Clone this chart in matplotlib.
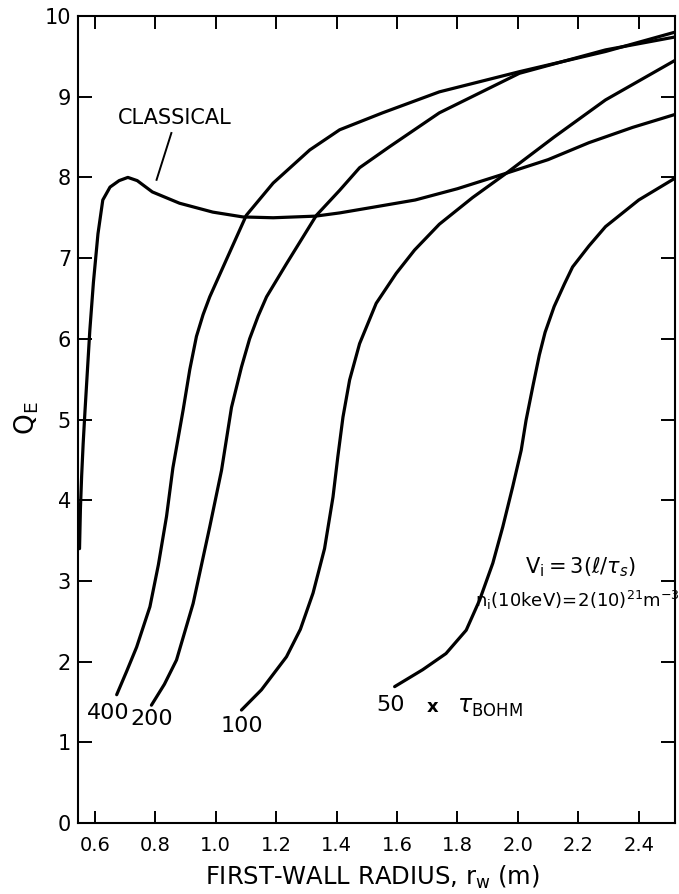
import matplotlib
matplotlib.use("Agg")
import matplotlib.pyplot as plt

plt.rcParams['font.family'] = ['DejaVu Sans']
plt.rcParams['mathtext.fontset'] = 'dejavusans'

# ---- data ----
classical_x = [0.549, 0.552, 0.556, 0.561, 0.567, 0.575, 0.583, 0.595, 0.610, 0.626,
               0.650, 0.680, 0.709, 0.740, 0.790, 0.880, 0.990, 1.090, 1.190, 1.330,
               1.410, 1.520, 1.660, 1.800, 1.960, 2.100, 2.235, 2.380, 2.520]
classical_y = [3.4, 3.9, 4.3, 4.7, 5.1, 5.6, 6.1, 6.7, 7.3, 7.72,
               7.88, 7.96, 8.00, 7.96, 7.82, 7.68, 7.57, 7.51, 7.50, 7.52,
               7.56, 7.63, 7.72, 7.86, 8.05, 8.22, 8.43, 8.62, 8.78]

b400_x = [0.672, 0.705, 0.738, 0.782, 0.810, 0.837, 0.858, 0.892, 0.914, 0.936,
          0.958, 0.980, 1.035, 1.101, 1.190, 1.311, 1.410, 1.552, 1.740, 2.005,
          2.290, 2.520]
b400_y = [1.59, 1.88, 2.18, 2.68, 3.20, 3.80, 4.40, 5.12, 5.62, 6.03,
          6.30, 6.52, 6.98, 7.53, 7.93, 8.34, 8.59, 8.80, 9.06, 9.31,
          9.56, 9.80]

b200_x = [0.787, 0.830, 0.870, 0.925, 0.980, 1.019, 1.052, 1.085, 1.112, 1.140,
          1.168, 1.234, 1.333, 1.410, 1.476, 1.575, 1.740, 2.005, 2.290, 2.520]
b200_y = [1.46, 1.72, 2.02, 2.72, 3.67, 4.37, 5.15, 5.65, 6.00, 6.28,
          6.52, 6.93, 7.53, 7.84, 8.12, 8.38, 8.80, 9.29, 9.58, 9.74]

b100_x = [1.085, 1.151, 1.234, 1.280, 1.322, 1.360, 1.388, 1.404, 1.421, 1.443,
          1.476, 1.531, 1.597, 1.658, 1.740, 1.850, 1.961, 2.120, 2.290, 2.520]
b100_y = [1.40, 1.65, 2.06, 2.40, 2.85, 3.40, 4.04, 4.54, 5.03, 5.49,
          5.94, 6.44, 6.81, 7.10, 7.42, 7.75, 8.05, 8.50, 8.96, 9.45]

b50_x = [1.592, 1.685, 1.762, 1.829, 1.873, 1.917, 1.950, 1.983, 2.011, 2.027,
         2.050, 2.071, 2.090, 2.120, 2.154, 2.181, 2.235, 2.290, 2.400, 2.520]
b50_y = [1.69, 1.90, 2.10, 2.39, 2.76, 3.22, 3.67, 4.17, 4.62, 4.99,
         5.42, 5.80, 6.08, 6.40, 6.68, 6.89, 7.15, 7.39, 7.72, 7.99]

x_ticks = [0.6, 0.8, 1.0, 1.2, 1.4, 1.6, 1.8, 2.0, 2.2, 2.4]
x_tick_labels = ["0.6", "0.8", "1.0", "1.2", "1.4", "1.6", "1.8", "2.0", "2.2", "2.4"]
y_ticks = [0, 1, 2, 3, 4, 5, 6, 7, 8, 9, 10]
y_tick_labels = ["0", "1", "2", "3", "4", "5", "6", "7", "8", "9", "10"]

# ---- figure ----
fig = plt.figure(figsize=(6.79, 8.94), dpi=100)
ax = fig.add_axes([0.1149, 0.0794, 0.8792, 0.9027])

lw = 2.3
for xs, ys in [(classical_x, classical_y), (b400_x, b400_y), (b200_x, b200_y),
               (b100_x, b100_y), (b50_x, b50_y)]:
    ax.plot(xs, ys, color='black', lw=lw, solid_capstyle='round', solid_joinstyle='round')

ax.set_xlim(0.544, 2.52)
ax.set_ylim(0, 10)

ax.set_xticks(x_ticks)
ax.set_xticklabels(x_tick_labels, fontsize=14)
ax.set_yticks(y_ticks)
ax.set_yticklabels(y_tick_labels, fontsize=15)
ax.tick_params(axis='x', direction='in', length=9, width=1.4, top=True, bottom=True, pad=9)
ax.tick_params(axis='y', direction='in', length=10, width=1.4, left=True, right=True, pad=5)
for s in ax.spines.values():
    s.set_linewidth(1.5)

# curve labels
ax.text(0.643, 1.36, "400", fontsize=16, ha='center', va='center')
ax.text(0.788, 1.29, "200", fontsize=16, ha='center', va='center')
ax.text(1.088, 1.20, "100", fontsize=16, ha='center', va='center')
ax.text(1.578, 1.46, "50", fontsize=16, ha='center', va='center')
ax.text(1.717, 1.44, "x", fontsize=13, ha='center', va='center', fontweight='bold')
ax.text(1.80, 1.44, r"$\tau_{\mathregular{BOHM}}$", fontsize=17, ha='left', va='center')

ax.text(0.864, 8.74, "CLASSICAL", fontsize=15, ha='center', va='center')
ax.plot([0.853, 0.804], [8.55, 7.97], color='black', lw=1.4)

ax.text(2.207, 3.17, r"$\mathregular{V_i = 3(}\ell/\tau_s\mathregular{)}$", fontsize=15,
        ha='center', va='center')
ax.text(2.197, 2.76, r"$\mathregular{n_i(10keV)\!=\!2(10)^{21}m^{-3}}$", fontsize=13,
        ha='center', va='center', clip_on=False)

fig.text(27 / 679, 1 - 418 / 894, r"$\mathregular{Q_E}$", rotation=90, fontsize=19,
         ha='center', va='center')
fig.text(373 / 679, 1 - 877 / 894, r"FIRST-WALL RADIUS, $\mathregular{r_w}$ (m)", fontsize=17.5,
         ha='center', va='center')

fig.savefig("out.png", dpi=100)
